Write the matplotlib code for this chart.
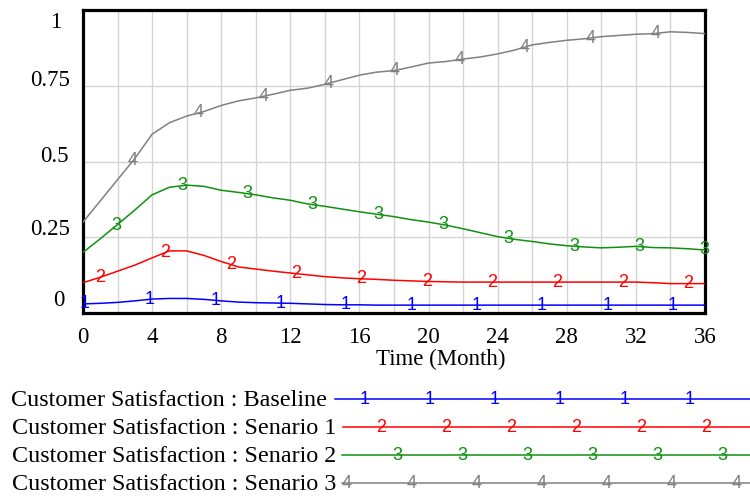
import numpy as np
import matplotlib
matplotlib.use("Agg")
import matplotlib.pyplot as plt
from matplotlib.lines import Line2D

# ---------------- data ----------------
months = list(range(37))
baseline = [0.030, 0.032, 0.035, 0.040, 0.046, 0.048, 0.048, 0.045, 0.040, 0.036,
            0.034, 0.033, 0.032, 0.030, 0.028, 0.027, 0.027, 0.026, 0.026, 0.026,
            0.026, 0.026, 0.026, 0.026, 0.026, 0.026, 0.026, 0.026, 0.026, 0.026,
            0.026, 0.026, 0.026, 0.026, 0.026, 0.026, 0.026]
scenario1 = [0.100, 0.118, 0.138, 0.158, 0.182, 0.205, 0.205, 0.190, 0.170, 0.152,
             0.145, 0.138, 0.132, 0.126, 0.120, 0.116, 0.113, 0.111, 0.108, 0.106,
             0.104, 0.103, 0.102, 0.102, 0.102, 0.102, 0.102, 0.102, 0.102, 0.102,
             0.102, 0.102, 0.102, 0.100, 0.097, 0.097, 0.097]
scenario2 = [0.200, 0.245, 0.292, 0.340, 0.390, 0.415, 0.422, 0.418, 0.405, 0.398,
             0.390, 0.380, 0.372, 0.360, 0.352, 0.343, 0.334, 0.326, 0.318, 0.308,
             0.300, 0.290, 0.278, 0.265, 0.252, 0.243, 0.236, 0.228, 0.222, 0.218,
             0.215, 0.217, 0.220, 0.216, 0.215, 0.212, 0.208]
scenario3 = [0.300, 0.370, 0.440, 0.510, 0.590, 0.628, 0.650, 0.665, 0.685, 0.700,
             0.710, 0.722, 0.735, 0.742, 0.755, 0.770, 0.785, 0.795, 0.800, 0.812,
             0.825, 0.830, 0.838, 0.845, 0.855, 0.868, 0.885, 0.893, 0.900, 0.905,
             0.912, 0.916, 0.920, 0.922, 0.928, 0.926, 0.922]
series = [baseline, scenario1, scenario2, scenario3]
series_names = ["Customer Satisfaction : Baseline",
                "Customer Satisfaction : Senario 1",
                "Customer Satisfaction : Senario 2",
                "Customer Satisfaction : Senario 3"]
series_ids = ["1", "2", "3", "4"]
x_ticks = [0, 4, 8, 12, 16, 20, 24, 28, 32, 36]
y_ticks = [0, 0.25, 0.5, 0.75, 1]
y_tick_labels = ["0", "0.25", "0.5", "0.75", "1"]
x_label = "Time (Month)"

# ---------------- style ----------------
colors = ["#0000ff", "#ff0000", "#109010", "#808080"]
serif = "Liberation Serif"
sans = "Liberation Sans"
W, H = 750, 496

fig = plt.figure(figsize=(7.5, 4.96), dpi=100)
ax = fig.add_axes([83 / W, 1 - 313 / H, (705 - 83) / W, (313 - 10) / H])
ax.set_xlim(0, 36)
ax.set_ylim(0, 1)

ax.set_xticks(x_ticks)
ax.set_xticklabels([str(v) for v in x_ticks], fontsize=16.5, family=serif)
ax.set_xticks(np.arange(2, 36, 4), minor=True)
ax.set_yticks(y_ticks)
ax.set_yticklabels([])
ax.tick_params(axis="both", which="both", length=0)
ax.tick_params(axis="x", pad=10)
ax.grid(True, which="both", axis="x", color="#d4d4d4", lw=1.0)
ax.grid(True, which="major", axis="y", color="#d4d4d4", lw=1.0)
ax.set_axisbelow(True)
for sp in ax.spines.values():
    sp.set_linewidth(2.3)
    sp.set_color("black")

# y tick labels placed as in the reference
ylab_x = [59, 50, 54, 50, 56]
ylab_y = [301, 230, 157, 80, 22]
for lab, xp, yp in zip(y_tick_labels, ylab_x, ylab_y):
    fig.text(xp / W, 1 - yp / H, lab, ha="center", va="center",
             fontsize=16.5, family=serif)

fig.text(441 / W, 1 - 359 / H, x_label, ha="center", va="center",
         fontsize=16.5, family=serif)

# series lines with numbered markers
offsets = [0.1, 1.0, 1.95, 2.9]
for vals, col, sid, off in zip(series, colors, series_ids, offsets):
    ax.plot(months, vals, color=col, lw=1.1, zorder=3)
    for t in np.arange(off, 36.05, 3.78):
        ax.text(t, np.interp(t, months, vals), sid, color=col, fontsize=13,
                family=sans, ha="center", va="center", zorder=4, clip_on=False)

# legend block
leg_line_y = [399, 427, 455, 483]
leg_text_right = [327, 336, 336, 336]
leg_line_start = [335, 343, 342, 342]
leg_marker_start = [365, 381, 397, 347]
for i in range(4):
    y = 1 - leg_line_y[i] / H
    fig.text(leg_text_right[i] / W, y - 1.0 / H, series_names[i], ha="right",
             va="center", fontsize=17.4, family=serif)
    fig.add_artist(Line2D([leg_line_start[i] / W, 1.0], [y, y], color=colors[i],
                          lw=1.1, transform=fig.transFigure))
    for xm in np.arange(leg_marker_start[i], W, 65):
        fig.text(xm / W, y, series_ids[i], color=colors[i], fontsize=13,
                 family=sans, ha="center", va="center")

fig.savefig("out.png", dpi=100)
